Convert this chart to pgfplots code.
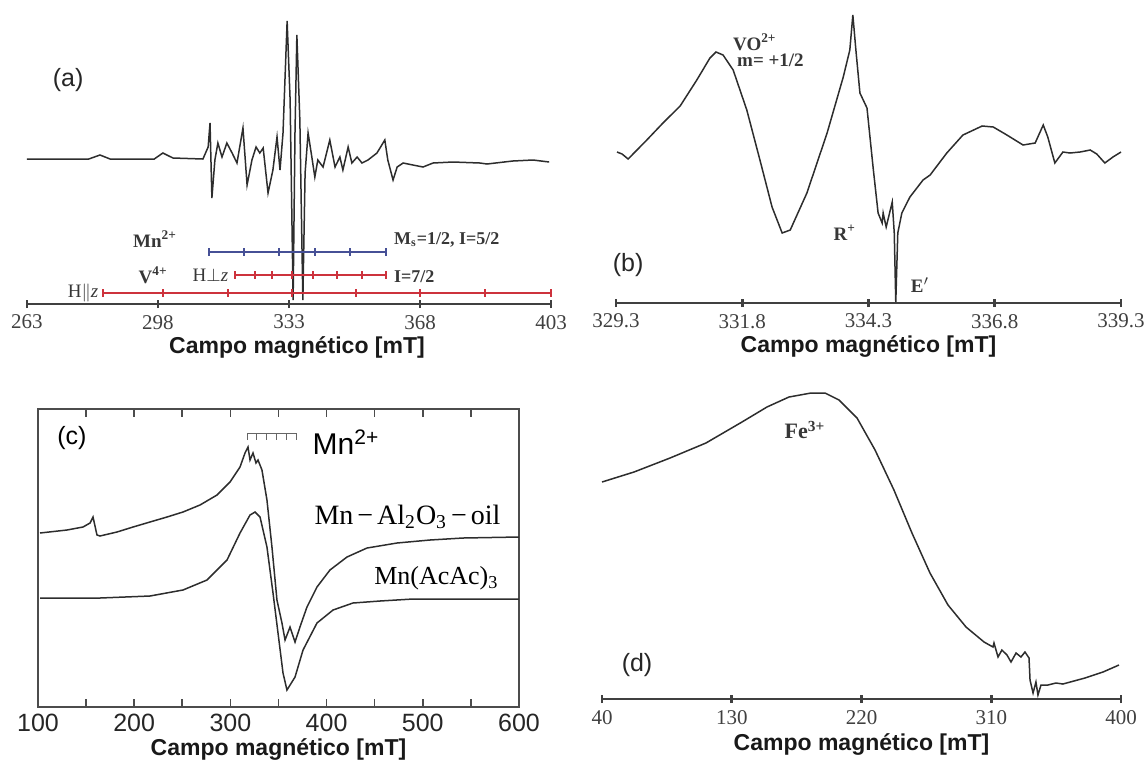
\documentclass[border=0pt]{standalone}
\usepackage{fontspec}
\setmainfont{Liberation Serif}
\setsansfont{Liberation Sans}
\usepackage{pgfplots}
\pgfplotsset{compat=1.18}
\definecolor{curve}{RGB}{45,45,45}
\definecolor{mnblue}{RGB}{70,80,150}
\definecolor{vred}{RGB}{205,50,60}
\definecolor{lbl}{RGB}{55,55,55}
\pgfplotsset{
  linaxis/.style={
    scale only axis, anchor=south west, clip=false,
    axis x line*=bottom, axis y line=none,
    axis line style={line width=1.1pt, color=black!75},
    tick align=center, major tick length=4pt,
    every tick/.style={line width=1.3pt, black!75},
    xticklabel style={font=\fontsize{10.5}{12}\selectfont, text=black!75},
    xlabel style={font=\sffamily\bfseries\fontsize{11.5}{13}\selectfont, text=black!90, yshift=3pt},
    xlabel={Campo magnético [mT]},
  },
  spec/.style={curve, line width=0.75pt},
}
\tikzset{
  panel/.style={font=\sffamily\fontsize{12.5}{14}\selectfont, text=black!85},
  ann/.style={font=\bfseries\fontsize{9.5}{11}\selectfont, text=lbl},
}
\begin{document}
\begin{tikzpicture}
\useasboundingbox (0,0) rectangle (572.5pt,-381pt);
% ---------------- (a)
\begin{axis}[linaxis, at={(13.5pt,-152pt)}, width=262pt, height=147pt,
  xmin=263, xmax=403, ymin=0, ymax=294,
  xlabel style={xshift=4pt},
  xtick={263,298,333,368,403}, xticklabels={263,298,333,368,403}]
\addplot[spec] coordinates {
(263.0,145) (279.5,145) (282.5,149) (285.2,145) (297.0,145) (299.3,151) (302.0,146)
(310.0,145) (311.4,157) (311.9,181) (312.4,106) (313.2,144) (314.0,161) (315.1,147)
(316.4,161) (317.8,151) (319.1,141) (320.7,176) (321.8,119) (323.1,144) (324.2,157)
(325.2,151) (326.1,156) (327.4,111) (328.7,134) (329.8,167) (330.6,134) (331.4,171)
(332.5,283) (333.3,204) (334.1,4) (334.6,171) (335.1,269) (335.9,184) (336.7,4)
(337.3,131) (338.1,171) (339.1,147) (339.9,127) (340.7,144) (342.1,137) (343.9,164)
(345.3,137) (346.6,147) (347.4,134) (348.8,157) (349.8,141) (351.2,147) (352.5,141)
(354.1,144) (356.5,151) (358.6,164) (359.4,144) (360.8,124) (361.9,137) (363.5,141)
(366.1,139) (368.8,137) (371.5,141) (376.8,142) (384.0,141) (385.9,140) (392.8,143)
(398.2,144) (402.5,142)};
\addplot[mnblue, line width=0.8pt, mark=|, mark size=2pt, mark options={line width=0.8pt}] coordinates {
(311.6,52) (321.0,52) (330.3,52) (339.9,52) (349.3,52) (358.9,52)};
\addplot[vred, line width=0.8pt, mark=|, mark size=2pt, mark options={line width=0.8pt}] coordinates {
(318.6,29) (323.9,29) (328.5,29) (333.8,29) (339.4,29) (345.8,29) (352.5,29) (358.9,29)};
\addplot[vred, line width=0.8pt, mark=|, mark size=2pt, mark options={line width=0.8pt}] coordinates {
(283.3,11) (299.3,11) (316.7,11) (333.8,11) (350.9,11) (368.0,11) (385.4,11) (403.0,11)};
\node[panel] at (axis cs:274.0,224) {(a)};
\node[ann] at (axis cs:297.2,65) {Mn\textsuperscript{2+}};
\node[ann] at (axis cs:296.7,29) {V\textsuperscript{4+}};
\node[ann, font=\fontsize{9.5}{11}\selectfont] at (axis cs:312.0,29) {H$\perp$\textit{z}};
\node[ann, font=\fontsize{9.5}{11}\selectfont] at (axis cs:278.0,11) {H$\parallel$\textit{z}};
\node[ann, anchor=west, font=\bfseries\fontsize{9}{11}\selectfont] at (axis cs:359.2,64) {M\textsubscript{s}=1/2, I=5/2};
\node[ann, anchor=west, font=\bfseries\fontsize{9}{11}\selectfont] at (axis cs:359.2,27) {I=7/2};
\end{axis}
% ---------------- (b)
\begin{axis}[linaxis, at={(308pt,-151.5pt)}, width=252.5pt, height=149pt,
  xmin=329.3, xmax=339.3, ymin=0, ymax=298,
  xtick={329.3,331.8,334.3,336.8,339.3}, xticklabels={329.3,331.8,334.3,336.8,339.3}]
\addplot[spec] coordinates {
(329.32,151) (329.42,149) (329.54,144) (329.91,163) (330.23,180) (330.57,197) (330.90,223)
(331.16,245) (331.28,251) (331.42,248) (331.62,233) (331.89,193) (332.15,143) (332.39,96)
(332.59,70) (332.75,73) (333.08,110) (333.48,170) (333.80,226) (333.93,253) (333.99,288)
(334.05,253) (334.13,210) (334.27,195) (334.39,136) (334.49,90) (334.57,80) (334.59,90)
(334.65,76) (334.77,101) (334.81,70) (334.84,1) (334.88,70) (334.96,90) (335.12,106)
(335.38,123) (335.52,128) (335.85,150) (336.17,168) (336.55,177) (336.77,176) (337.04,168)
(337.36,158) (337.60,160) (337.76,178) (337.85,166) (337.99,140) (338.15,151) (338.29,150)
(338.49,151) (338.69,153) (338.82,149) (338.98,140) (339.14,146) (339.30,151)};
\node[ann] at (axis cs:332.05,261) {VO\textsuperscript{2+}};
\node[ann, anchor=west] at (axis cs:331.56,243) {m= +1/2};
\node[ann] at (axis cs:333.83,70) {R\textsuperscript{+}};
\node[ann] at (axis cs:335.32,18) {E$'$};
\node[panel] at (axis cs:329.54,38) {(b)};
\end{axis}
% ---------------- (c)
\begin{axis}[scale only axis, anchor=south west, clip=false, at={(19pt,-353.5pt)},
  width=240.5pt, height=149pt,
  xmin=100, xmax=600, ymin=0, ymax=298,
  xtick={100,200,300,400,500,600}, xticklabels={100,200,300,400,500,600},
  minor x tick num=1, ytick=\empty,
  tick align=inside, major tick length=4pt, minor tick length=4pt,
  axis line style={line width=0.9pt, black!70},
  every tick/.style={black!70, line width=0.8pt},
  xticklabel style={font=\sffamily\fontsize{12.5}{14}\selectfont, text=black!85},
  xlabel={Campo magnético [mT]},
  xlabel style={font=\sffamily\bfseries\fontsize{11.5}{13}\selectfont, text=black!90, yshift=3.5pt}]
\addplot[spec] coordinates {
(102.1,174) (130.1,177) (146.8,180) (154.1,184) (157.2,190) (161.3,172) (164.4,171)
(182.1,175) (198.8,180) (216.4,185) (234.1,190) (250.7,195) (268.4,202) (286.1,212)
(299.6,225) (310.0,240) (315.2,254) (318.3,260) (320.4,247) (323.5,254) (326.6,244)
(328.7,247) (332.8,237) (338.0,207) (343.2,160) (348.4,107) (353.6,84) (356.8,67)
(362.0,80) (367.2,65) (372.3,80) (379.6,100) (390.0,120) (403.5,137) (421.2,150)
(442.0,159) (473.2,164) (507.5,167) (541.8,169) (600,170)};
\addplot[spec] coordinates {
(102.1,109) (164.4,109) (216.4,111) (250.7,117) (275.7,127) (296.5,147) (310.0,174)
(320.4,192) (325.6,195) (330.8,190) (338.0,160) (344.3,114) (349.5,74) (354.7,34)
(358.8,17) (367.2,30) (375.5,57) (390.0,84) (406.7,97) (427.4,104) (455.5,106)
(489.8,108) (600,108)};
\draw[black!60, line width=0.5pt] (axis cs:317.3,267) -- (axis cs:317.3,274) -- (axis cs:368.2,274) -- (axis cs:368.2,267);
\draw[black!60, line width=0.5pt] (axis cs:327.5,274) -- (axis cs:327.5,267);
\draw[black!60, line width=0.5pt] (axis cs:337.7,274) -- (axis cs:337.7,267);
\draw[black!60, line width=0.5pt] (axis cs:347.9,274) -- (axis cs:347.9,267);
\draw[black!60, line width=0.5pt] (axis cs:358.1,274) -- (axis cs:358.1,267);
\node[font=\sffamily\fontsize{12.5}{14}\selectfont] at (axis cs:135.3,269) {(c)};
\node[font=\sffamily\fontsize{15}{17}\selectfont] at (axis cs:420.2,265) {Mn\textsuperscript{2+}};
\node[font=\fontsize{14}{16}\selectfont, anchor=east] at (axis cs:588,190) {Mn\hspace{2pt}−\hspace{2pt}Al\textsubscript{2}O\textsubscript{3}\hspace{2pt}−\hspace{2pt}oil};
\node[font=\fontsize{13}{15}\selectfont, anchor=east] at (axis cs:586,129) {Mn(AcAc)\textsubscript{3}};
\end{axis}
% ---------------- (d)
\begin{axis}[linaxis, at={(301pt,-349.5pt)}, width=259.5pt, height=169.5pt,
  xmin=40, xmax=400, ymin=0, ymax=339,
  xlabel style={yshift=-1pt},
  xtick={40,130,220,310,400}, xticklabels={40,130,220,310,400}]
\addplot[spec] coordinates {
(40.0,217) (62.2,227) (87.2,241) (112.1,256) (137.1,277) (154.4,292) (169.7,302)
(185.0,306) (194.7,306) (204.4,299) (216.9,281) (229.4,249) (242.5,209) (255.0,166)
(267.5,126) (280.0,94) (292.5,72) (305.0,57) (311.2,52) (311.9,56) (314.7,42)
(317.4,49) (320.9,44) (323.7,37) (327.2,46) (330.6,42) (333.4,47) (336.2,41)
(336.9,19) (339.0,6) (341.0,17) (342.4,4) (344.5,14) (349.3,14) (354.9,16)
(359.7,15) (375.0,21) (387.5,27) (398.6,34)};
\node[ann, font=\bfseries\fontsize{11}{13}\selectfont] at (axis cs:180.8,269) {Fe\textsuperscript{3+}};
\node[panel] at (axis cs:64.3,34) {(d)};
\end{axis}
\end{tikzpicture}
\end{document}
